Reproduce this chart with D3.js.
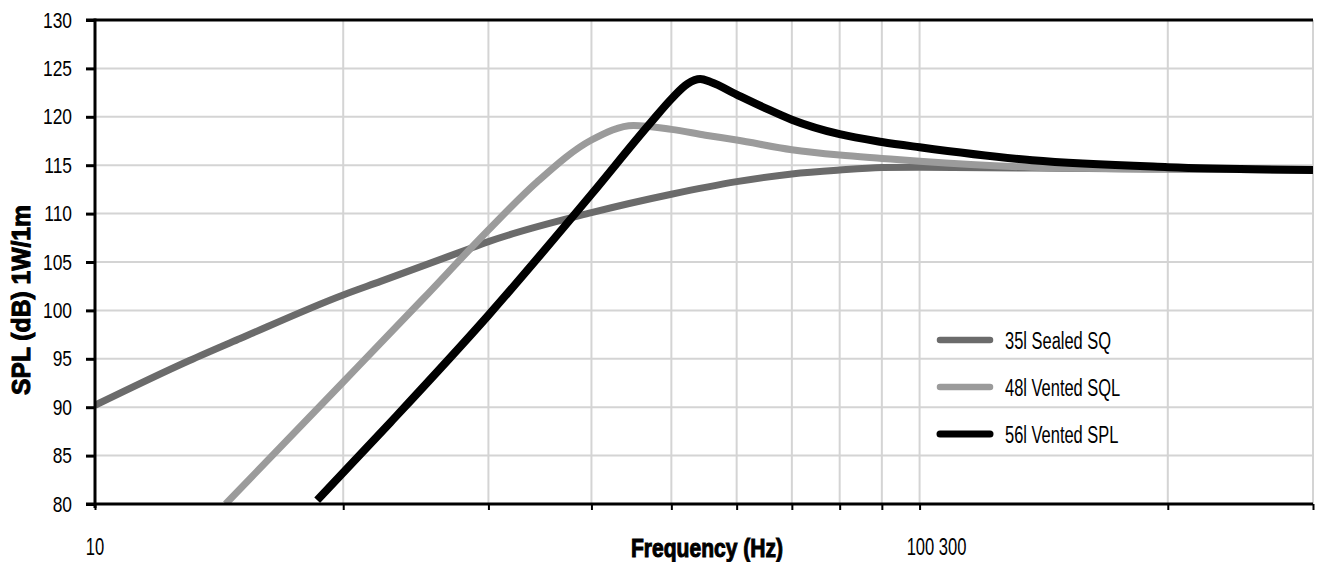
<!DOCTYPE html>
<html>
<head>
<meta charset="utf-8">
<script src="https://cdn.jsdelivr.net/npm/d3@7"></script>
<style>
  html, body { margin: 0; padding: 0; background: #fff; }
  svg { display: block; }
  text { font-family: "Liberation Sans", Arial, sans-serif; }
</style>
</head>
<body>
<svg id="chart" width="1318" height="562"></svg>
<script>
// ---- data ----
const sealedFreq = [10, 13, 15, 20, 22.2, 28.5, 30, 40, 50, 60, 70, 80, 90, 100, 137, 200, 300];
const sealedSPL  = [90.2, 94.8, 97.1, 101.6, 103.0, 106.4, 107.1, 110.1, 112.0, 113.3, 114.1, 114.5, 114.75, 114.8, 114.7, 114.6, 114.5];

const ventedSQLFreq = [14.4, 20, 25, 30, 34.4, 40, 45, 50, 55, 60, 70, 80, 90, 100, 137, 200, 300];
const ventedSQLSPL  = [80.0, 92.6, 101.2, 108.3, 113.3, 117.6, 119.1, 118.7, 118.1, 117.6, 116.6, 116.05, 115.7, 115.4, 114.8, 114.6, 114.5];

const ventedSPLFreq = [18.6, 22.8, 30, 40, 47.2, 50.2, 52.3, 54.2, 55.8, 60, 65, 70, 80, 90, 100, 137, 200, 300];
const ventedSPLSPL  = [80.4, 88.4, 99.5, 112.0, 119.4, 122.0, 123.4, 123.9, 123.6, 122.3, 120.9, 119.7, 118.2, 117.4, 116.85, 115.5, 114.8, 114.5];

const seriesNames = ["35l Sealed SQ", "48l Vented SQL", "56l Vented SPL"];
const seriesColors = ["#6b6b6b", "#9b9b9b", "#000000"];

const yTicks = [80, 85, 90, 95, 100, 105, 110, 115, 120, 125, 130];
const xGrid = [10, 20, 30, 40, 50, 60, 70, 80, 90, 100, 200, 300];
const xTickLabels = [{ f: 10, label: "10", dx: 0 }, { f: 100, label: "100 300", dx: 17 }];
const xTitle = "Frequency (Hz)";
const yTitle = "SPL (dB) 1W/1m";

// ---- layout ----
const svg = d3.select("#chart");
const pLeft = 95, pRight = 1313, pTop = 20, pBottom = 504;

const x = d3.scaleLog().domain([10, 300]).range([pLeft, pRight]);
const y = d3.scaleLinear().domain([80, 130]).range([pBottom, pTop]);

// condensed look: squeeze text horizontally
function condense(sel, factor) {
  sel.each(function () {
    const w = this.getComputedTextLength();
    d3.select(this).attr("textLength", w * factor).attr("lengthAdjust", "spacingAndGlyphs");
  });
}

// gridlines
svg.append("g").selectAll("line")
  .data(yTicks.filter(v => v > 80 && v < 130))
  .join("line")
  .attr("x1", pLeft).attr("x2", pRight)
  .attr("y1", d => y(d)).attr("y2", d => y(d))
  .attr("stroke", "#d4d4d4").attr("stroke-width", 2);

svg.append("g").selectAll("line")
  .data(xGrid.filter(v => v > 10))
  .join("line")
  .attr("x1", d => x(d)).attr("x2", d => x(d))
  .attr("y1", pTop).attr("y2", pBottom)
  .attr("stroke", "#d4d4d4").attr("stroke-width", 2);

// curves
svg.append("clipPath").attr("id", "plotclip")
  .append("rect").attr("x", pLeft).attr("y", pTop - 10).attr("width", pRight - pLeft).attr("height", pBottom - pTop + 10);

const series = [
  { f: sealedFreq, v: sealedSPL, w: 7 },
  { f: ventedSQLFreq, v: ventedSQLSPL, w: 7 },
  { f: ventedSPLFreq, v: ventedSPLSPL, w: 8 }
];

const line = d3.line().x(d => x(d[0])).y(d => y(d[1])).curve(d3.curveMonotoneX);

svg.append("g").attr("clip-path", "url(#plotclip)")
  .selectAll("path")
  .data(series)
  .join("path")
  .attr("d", s => line(s.f.map((f, i) => [f, s.v[i]])))
  .attr("fill", "none")
  .attr("stroke", (s, i) => seriesColors[i])
  .attr("stroke-width", s => s.w)
  .attr("stroke-linejoin", "round");

// axes
const yAxis = svg.append("g").attr("transform", `translate(${pLeft},0)`)
  .call(d3.axisLeft(y).tickValues(yTicks).tickSize(9).tickPadding(14).tickFormat(d3.format("d")));
yAxis.select(".domain").remove();
yAxis.selectAll(".tick line").attr("stroke", "#000").attr("stroke-width", 3);
yAxis.selectAll(".tick text").attr("font-size", 22).attr("fill", "#000")
  .attr("font-family", '"Liberation Sans", Arial, sans-serif');
condense(yAxis.selectAll(".tick text"), 0.79);

const xAxis = svg.append("g").attr("transform", `translate(0,${pBottom})`)
  .call(d3.axisBottom(x).tickValues(xGrid).tickSize(6).tickFormat(""));
xAxis.select(".domain").remove();
xAxis.selectAll(".tick line").attr("stroke", "#000").attr("stroke-width", 2);

// frame lines (left, bottom, top)
svg.append("line").attr("x1", pLeft).attr("x2", pLeft).attr("y1", pTop - 1.5).attr("y2", pBottom + 4)
  .attr("stroke", "#000").attr("stroke-width", 3);
svg.append("line").attr("x1", pLeft - 9).attr("x2", pRight).attr("y1", pBottom).attr("y2", pBottom)
  .attr("stroke", "#000").attr("stroke-width", 3);
svg.append("line").attr("x1", pLeft - 9).attr("x2", pRight).attr("y1", pTop).attr("y2", pTop)
  .attr("stroke", "#000").attr("stroke-width", 3);

// x tick labels
const xl = svg.append("g").selectAll("text")
  .data(xTickLabels)
  .join("text")
  .attr("x", d => x(d.f) + d.dx)
  .attr("y", 555)
  .attr("text-anchor", "middle")
  .attr("font-size", 23)
  .attr("fill", "#000")
  .text(d => d.label);
condense(xl, 0.72);

// axis titles
svg.append("text")
  .attr("x", 631).attr("y", 557)
  .attr("font-size", 25).attr("font-weight", "bold")
  .attr("textLength", 152).attr("lengthAdjust", "spacingAndGlyphs")
  .attr("fill", "#000")
  .attr("stroke", "#000").attr("stroke-width", 1)
  .text(xTitle);

svg.append("text")
  .attr("transform", "translate(30,395) rotate(-90)")
  .attr("font-size", 25).attr("font-weight", "bold")
  .attr("textLength", 190).attr("lengthAdjust", "spacingAndGlyphs")
  .attr("fill", "#000")
  .attr("stroke", "#000").attr("stroke-width", 1)
  .text(yTitle);

// legend
const legendY = [340, 387, 434];
const lg = svg.append("g").selectAll("g")
  .data(seriesNames)
  .join("g")
  .attr("transform", (d, i) => `translate(0,${legendY[i]})`);
lg.append("line")
  .attr("x1", 940).attr("x2", 990).attr("y1", 0).attr("y2", 0)
  .attr("stroke", (d, i) => seriesColors[i])
  .attr("stroke-width", (d, i) => i === 2 ? 7 : 6.5)
  .attr("stroke-linecap", "round");
const lt = lg.append("text")
  .attr("x", 1005).attr("y", 8.5)
  .attr("font-size", 23.5)
  .attr("fill", "#000")
  .text(d => d);
condense(lt, 0.7);
</script>
</body>
</html>
